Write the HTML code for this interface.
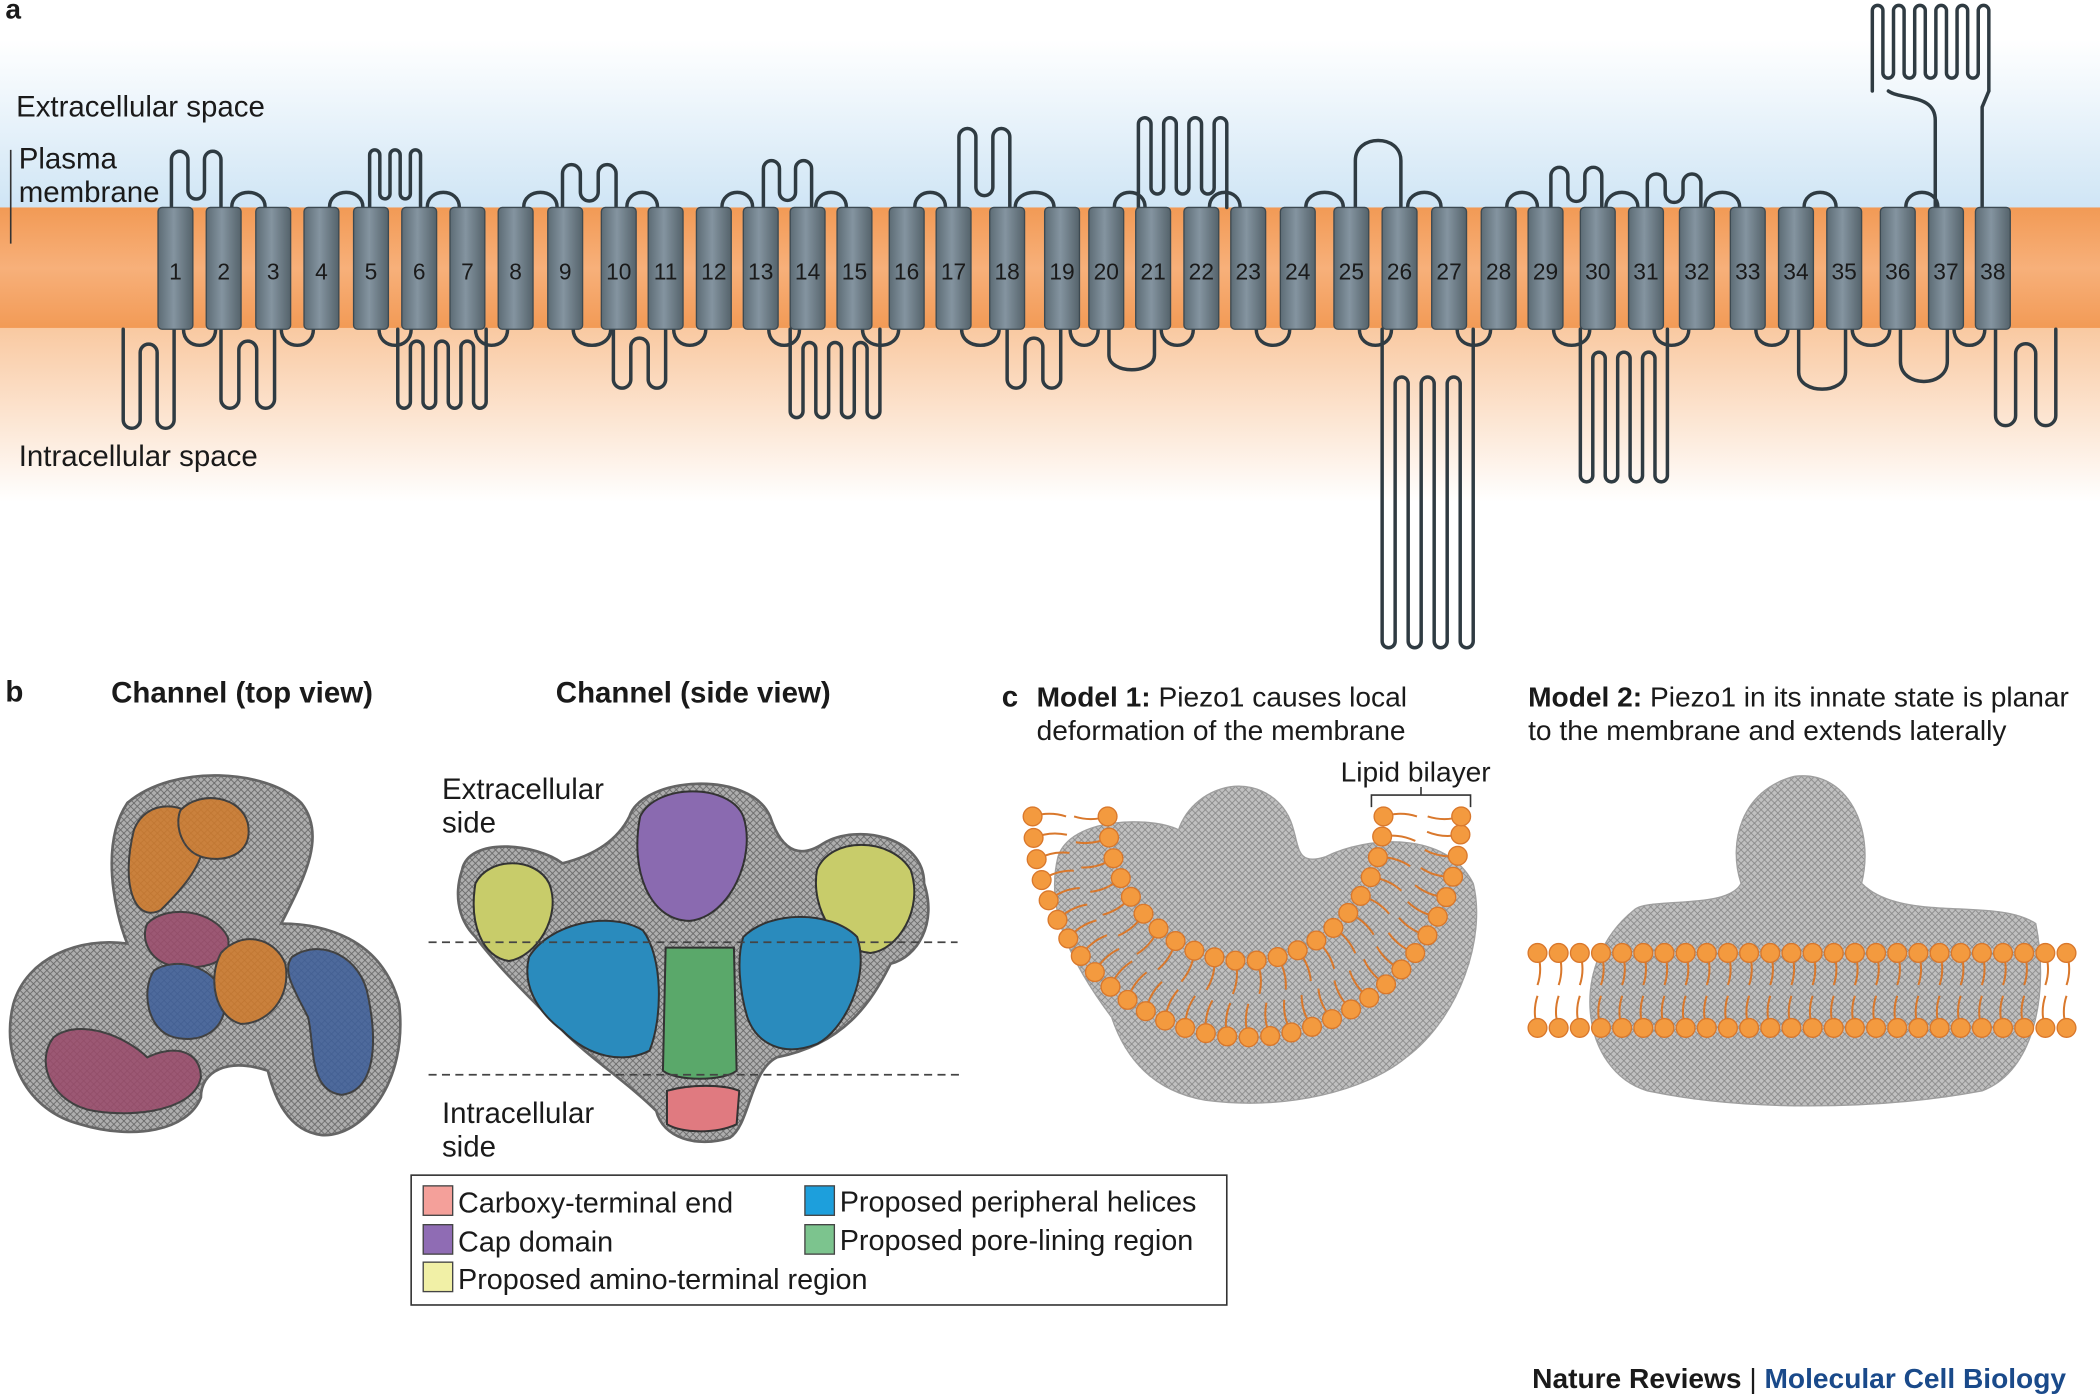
<!DOCTYPE html>
<html><head><meta charset="utf-8">
<style>
html,body{margin:0;padding:0;background:#fff;}
svg{display:block;}
text{font-family:"Liberation Sans",sans-serif;fill:#1a1a1a;}
.b{font-weight:bold;}
</style></head>
<body>
<svg id="s" width="2100" height="1396" viewBox="0 0 1568 1043" preserveAspectRatio="none" xmlns="http://www.w3.org/2000/svg">
<defs>
<linearGradient id="sky" x1="0" y1="0" x2="0" y2="1">
<stop offset="0" stop-color="#ffffff"/><stop offset="1" stop-color="#cfe5f5"/></linearGradient>
<linearGradient id="mem" x1="0" y1="0" x2="0" y2="1">
<stop offset="0" stop-color="#f29a55"/><stop offset="0.5" stop-color="#f7b07a"/><stop offset="1" stop-color="#f29a55"/></linearGradient>
<linearGradient id="cyt" x1="0" y1="0" x2="0" y2="1">
<stop offset="0" stop-color="#f9c9a1"/><stop offset="1" stop-color="#ffffff"/></linearGradient>
<linearGradient id="hel" x1="0" y1="0" x2="1" y2="0">
<stop offset="0" stop-color="#5d6c75"/><stop offset="0.45" stop-color="#8494a0"/><stop offset="1" stop-color="#55636b"/></linearGradient>
<pattern id="mesh" width="5" height="5" patternUnits="userSpaceOnUse">
<rect width="5" height="5" fill="#a6a6a6"/><path d="M0 0L5 5M5 0L0 5" stroke="#555" stroke-width="0.6"/></pattern>
</defs>

<rect x="0" y="30" width="1568" height="126" fill="url(#sky)"/>
<rect x="0" y="155" width="1568" height="91" fill="url(#mem)"/>
<rect x="0" y="245" width="1568" height="130" fill="url(#cyt)"/>

<g id="loops" fill="none" stroke="#2f3b42" stroke-width="2.6" stroke-linejoin="round" stroke-linecap="round"></g>
<g id="helices"></g>

<text x="4" y="14" class="b" font-size="21">a</text>
<text x="12" y="87" font-size="22">Extracellular space</text>
<text x="14" y="126" font-size="22">Plasma</text>
<text x="14" y="151" font-size="22">membrane</text>
<line x1="8" y1="112" x2="8" y2="182" stroke="#333" stroke-width="1.2"/>
<text x="14" y="348" font-size="22">Intracellular space</text>

<g id="nums" font-size="17" text-anchor="middle">
<text x="131" y="209">1</text><text x="167" y="209">2</text><text x="204" y="209">3</text><text x="240" y="209">4</text><text x="277" y="209">5</text><text x="313" y="209">6</text><text x="349" y="209">7</text><text x="385" y="209">8</text><text x="422" y="209">9</text><text x="462" y="209">10</text><text x="497" y="209">11</text><text x="533" y="209">12</text><text x="568" y="209">13</text><text x="603" y="209">14</text><text x="638" y="209">15</text><text x="677" y="209">16</text><text x="712" y="209">17</text><text x="752" y="209">18</text><text x="793" y="209">19</text><text x="826" y="209">20</text><text x="861" y="209">21</text><text x="897" y="209">22</text><text x="932" y="209">23</text><text x="969" y="209">24</text><text x="1009" y="209">25</text><text x="1045" y="209">26</text><text x="1082" y="209">27</text><text x="1119" y="209">28</text><text x="1154" y="209">29</text><text x="1193" y="209">30</text><text x="1229" y="209">31</text><text x="1267" y="209">32</text><text x="1305" y="209">33</text><text x="1341" y="209">34</text><text x="1377" y="209">35</text><text x="1417" y="209">36</text><text x="1453" y="209">37</text><text x="1488" y="209">38</text>
</g>

<text x="4" y="524" class="b" font-size="22">b</text>
<text x="83" y="525" class="b" font-size="22">Channel (top view)</text>
<text x="415" y="525" class="b" font-size="22">Channel (side view)</text>

<path d="M95 600 C130 570 200 575 225 600 C245 625 225 660 210 690 C240 690 285 700 298 750 C305 810 270 850 240 848 C215 845 205 820 200 800 C170 790 150 800 150 820 C140 845 100 852 60 840 C20 830 0 790 10 750 C20 715 60 700 95 705 C85 680 75 630 95 600 Z" fill="url(#mesh)" stroke="#555" stroke-width="2" opacity="0.9"/>
<g stroke="#333" stroke-width="1.5" opacity="0.85">
<path d="M100 620 C110 595 140 600 150 615 C160 640 135 665 120 680 C100 690 90 660 100 620Z" fill="#d07a2a"/>
<path d="M135 605 C150 590 180 595 185 615 C190 640 165 645 150 640 C135 635 130 615 135 605Z" fill="#d07a2a"/>
<path d="M110 690 C125 675 160 680 170 700 C175 720 150 725 130 722 C110 718 105 700 110 690Z" fill="#9a4a6a"/>
<path d="M115 725 C130 715 160 720 168 745 C170 770 150 780 130 775 C110 770 105 740 115 725Z" fill="#3e5f9a"/>
<path d="M165 712 C180 695 205 700 213 720 C218 745 200 765 180 765 C160 760 155 730 165 712Z" fill="#d07a2a"/>
<path d="M218 715 C240 700 270 715 275 745 C282 780 280 815 255 818 C230 815 235 780 230 760 C220 740 210 725 218 715Z" fill="#3e5f9a"/>
<path d="M40 775 C60 760 95 775 110 790 C130 780 150 785 150 805 C145 830 100 835 70 830 C40 825 25 795 40 775Z" fill="#9a4a6a"/>
</g>

<path d="M345 650 C350 625 400 630 420 645 C440 640 460 630 470 610 C480 580 560 575 575 610 C585 640 600 640 615 630 C640 615 690 625 690 660 C700 690 685 715 665 720 C650 750 630 780 580 790 C560 800 560 840 545 850 C520 858 495 850 490 830 C470 810 440 790 420 770 C390 740 370 720 355 700 C340 685 340 665 345 650 Z" fill="url(#mesh)" stroke="#555" stroke-width="2" opacity="0.9"/>
<g stroke="#333" stroke-width="1.5">
<path d="M478 610 C490 585 545 585 555 610 C565 640 545 685 515 688 C485 688 470 650 478 610Z" fill="#8a6ab0"/>
<path d="M355 660 C365 640 400 640 410 660 C420 685 400 715 380 718 C360 715 350 690 355 660Z" fill="#c8cc6a"/>
<path d="M610 650 C620 625 665 625 680 650 C690 680 670 710 650 712 C625 710 605 680 610 650Z" fill="#c8cc6a"/>
<path d="M395 715 C410 690 455 680 480 695 C495 715 495 760 485 785 C465 795 440 790 420 770 C400 755 390 735 395 715Z" fill="#2a8bbd"/>
<path d="M555 700 C575 680 620 680 640 700 C650 730 630 770 610 780 C585 790 565 780 558 760 C552 740 550 715 555 700Z" fill="#2a8bbd"/>
<path d="M497 708 L548 708 L550 800 C540 808 505 808 495 800 Z" fill="#5aa86a"/>
<path d="M498 815 C515 810 540 810 552 815 L550 840 C535 847 510 847 498 840 Z" fill="#e07a80"/>
</g>
<line x1="320" y1="704" x2="715" y2="704" stroke="#444" stroke-width="1.3" stroke-dasharray="6,4"/>
<line x1="320" y1="803" x2="720" y2="803" stroke="#444" stroke-width="1.3" stroke-dasharray="6,4"/>
<text x="330" y="597" font-size="22">Extracellular</text>
<text x="330" y="622" font-size="22">side</text>
<text x="330" y="839" font-size="22">Intracellular</text>
<text x="330" y="864" font-size="22">side</text>

<rect x="307" y="878" width="609" height="97" fill="#fff" stroke="#333" stroke-width="1.2"/>
<g stroke="#444" stroke-width="1">
<rect x="316" y="886" width="22" height="22" fill="#f4a09a"/>
<rect x="316" y="915" width="22" height="22" fill="#8f6cb4"/>
<rect x="316" y="943" width="22" height="22" fill="#f1f0a6"/>
<rect x="601" y="886" width="22" height="22" fill="#1d9fdc"/>
<rect x="601" y="915" width="22" height="22" fill="#7cc48e"/>
</g>
<g font-size="21.5">
<text x="342" y="906">Carboxy-terminal end</text>
<text x="342" y="935">Cap domain</text>
<text x="342" y="963">Proposed amino-terminal region</text>
<text x="627" y="905">Proposed peripheral helices</text>
<text x="627" y="934">Proposed pore-lining region</text>
</g>

<text x="748" y="528" class="b" font-size="22">c</text>
<text x="774" y="528" font-size="21"><tspan class="b">Model 1:</tspan> Piezo1 causes local</text>
<text x="774" y="553" font-size="21">deformation of the membrane</text>
<text x="1141" y="528" font-size="21"><tspan class="b">Model 2:</tspan> Piezo1 in its innate state is planar</text>
<text x="1141" y="553" font-size="21">to the membrane and extends laterally</text>
<text x="1001" y="584" font-size="21">Lipid bilayer</text>
<path d="M1024 603 L1024 594 L1098 594 L1098 603 M1061 594 L1061 588" fill="none" stroke="#333" stroke-width="1.2"/>

<path d="M790 640 C800 610 860 610 880 620 C890 590 930 575 955 600 C975 620 960 650 990 640 C1020 625 1080 620 1100 660 C1110 700 1090 760 1050 790 C1020 815 960 830 900 822 C860 815 840 790 830 760 C800 720 780 680 790 640Z" fill="url(#mesh)" stroke="#777" stroke-width="1" opacity="0.7"/>
<path d="M1220 680 C1230 670 1290 680 1300 660 C1290 630 1300 590 1340 580 C1380 575 1400 620 1390 660 C1420 690 1490 670 1520 690 C1530 740 1520 800 1480 815 C1400 830 1300 830 1230 815 C1180 800 1170 720 1220 680Z" fill="url(#mesh)" stroke="#777" stroke-width="1" opacity="0.7"/>
<g id="lip"></g>

<text x="1144" y="1037" class="b" font-size="21">Nature Reviews <tspan font-weight="normal">|</tspan> <tspan fill="#1a4a8a" style="fill:#1a4a8a">Molecular Cell Biology</tspan></text>
</svg>
<script>
var NS="http://www.w3.org/2000/svg";
var X=[131,167,204,240,277,313,349,385,422,462,497,533,568,603,638,677,712,752,793,826,861,897,932,969,1009,1045,1082,1119,1154,1193,1229,1267,1305,1341,1377,1417,1453,1488];
var L=document.getElementById('loops'),H=document.getElementById('helices');
function p(d){var e=document.createElementNS(NS,'path');e.setAttribute('d',d);L.appendChild(e);}
function fing(x0,x1,base,tip,n){
 var m=2*n-1,d=(x1-x0)/m,s='M'+x0+' '+base,dir=tip<base?-1:1,r=d/2;
 var back=base+(tip-base)*0.15;
 for(var i=0;i<m;i++){
  var x=x0+i*d;
  var yTo=(i%2==0)?tip:back;
  var yy=yTo-(i%2==0?-dir*r:dir*r)*-1;
  s+=' L'+x+' '+yy;
  var sweep=((i%2==0)==(dir<0))?1:0;
  s+=' A'+r+' '+r+' 0 0 '+sweep+' '+(x+d)+' '+yy;
 }
 s+=' L'+x1+' '+base;p(s);
}
for(var i=0;i<37;i++){
 var a=X[i]+6,b=X[i+1]-6;
 if(i%2==0){p('M'+a+' 246 C'+a+' 262 '+b+' 262 '+b+' 246');}
 else{p('M'+a+' 155 C'+a+' 140 '+b+' 140 '+b+' 155');}
}
fing(128,165,155,113,2);fing(276,314,155,112,3);fing(420,460,155,123,2);
fing(570,606,155,120,2);fing(716,754,155,96,2);fing(850,916,155,88,4);
fing(1158,1196,155,125,2);fing(1230,1270,155,130,2);
p('M1012 155 L1012 120 C1012 100 1046 100 1046 120 L1046 155');
p('M1445 155 L1445 90 C1445 70 1420 75 1410 68');fing(1398,1485,68,4,6);
p('M1480 155 L1480 80 L1485 68');
fing(92,130,246,320,2);fing(165,205,246,305,2);fing(297,363,246,305,4);
fing(458,497,246,290,2);fing(590,657,246,312,4);fing(752,792,246,290,2);
fing(1032,1100,246,484,4);fing(1180,1245,246,360,4);fing(1490,1535,246,318,2);
p('M828 246 L828 265 C828 280 862 280 862 265 L862 246');
p('M1343 246 L1343 278 C1343 295 1378 295 1378 278 L1378 246');
p('M1419 246 L1419 270 C1419 290 1454 290 1454 270 L1454 246');
X.forEach(function(x){var r=document.createElementNS(NS,'rect');r.setAttribute('x',x-13);r.setAttribute('y',155);r.setAttribute('width',26);r.setAttribute('height',91);r.setAttribute('rx',3);r.setAttribute('fill','url(#hel)');r.setAttribute('stroke','#3d4a52');r.setAttribute('stroke-width','1');H.appendChild(r);});
var G=document.getElementById('lip');
function lipid(x,y,nx,ny,len){len=len||24;var t=document.createElementNS(NS,'path');var ex=x+nx*len,ey=y+ny*len;
 t.setAttribute('d','M'+x+' '+y+' Q'+(x+nx*len/2+ny*4)+' '+(y+ny*len/2-nx*4)+' '+ex+' '+ey);t.setAttribute('stroke','#d9782c');t.setAttribute('stroke-width','1.5');t.setAttribute('fill','none');G.appendChild(t);
 var c=document.createElementNS(NS,'circle');c.setAttribute('cx',x);c.setAttribute('cy',y);c.setAttribute('r',7);c.setAttribute('fill','#f39a3f');c.setAttribute('stroke','#d9782c');G.appendChild(c);}
function ell(cx,cy,rx,ry,step,sign){
 var pts=[],N=3000;
 for(var k=0;k<=N;k++){var th=Math.PI-Math.PI*k/N;pts.push([cx+rx*Math.cos(th),cy+ry*Math.sin(th),th]);}
 var total=0;for(var k=1;k<pts.length;k++)total+=Math.hypot(pts[k][0]-pts[k-1][0],pts[k][1]-pts[k-1][1]);
 var n=Math.round(total/step),st=total/n;
 var acc=0,sel=[pts[0]];
 for(var k=1;k<pts.length;k++){acc+=Math.hypot(pts[k][0]-pts[k-1][0],pts[k][1]-pts[k-1][1]);if(acc>=st-0.01){sel.push(pts[k]);acc=0;}}
 if(sel.length<=n)sel.push(pts[pts.length-1]);
 sel.forEach(function(q){var th=q[2];var nx=Math.cos(th)/rx,ny=Math.sin(th)/ry,l=Math.hypot(nx,ny);lipid(q[0],q[1],sign*nx/l,sign*ny/l,25);});
}
// inner leaflet (tails outward), outer leaflet (tails inward)
ell(930,610,103,108,15.5,1);
ell(931,610,160,165,15.8,-1);
for(var x=1148;x<=1558;x+=15.8){lipid(x,712,0,1);lipid(x,768,0,-1);}
</script>
</body></html>
